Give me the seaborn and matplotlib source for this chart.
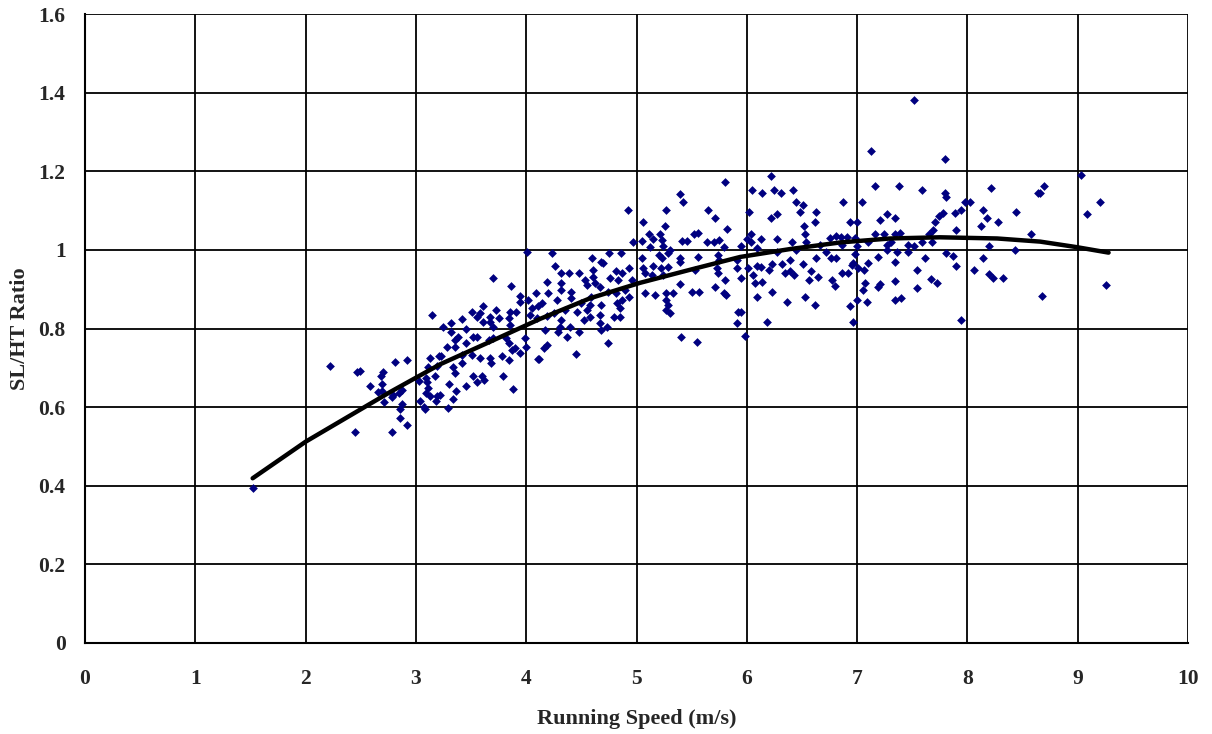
import numpy as np
import pandas as pd
import matplotlib
matplotlib.use("Agg")
import matplotlib.pyplot as plt
import seaborn as sns

# ---- scatter data (running speed m/s, SL/HT ratio) ----
speed = [
    1.52, 2.22, 2.45, 2.47, 2.78, 2.92, 2.86,
    3.15, 2.49, 2.81, 2.92, 2.70, 2.68, 2.58, 2.69, 2.69, 2.66, 2.71, 2.78, 2.79,
    2.85, 2.87, 2.87, 2.86, 3.03, 3.13, 3.11, 3.09, 3.10, 3.11, 3.09, 3.13, 3.04,
    3.07, 3.19, 3.17, 3.19, 3.21, 3.08, 3.29, 3.34, 3.36, 3.45, 3.55, 3.62, 3.88,
    3.22, 3.30, 3.18,
    4.01, 3.70, 3.86, 3.94, 4.09, 4.02, 3.94, 4.05, 4.11, 3.73, 3.85, 3.91, 3.51,
    3.55, 3.61, 3.42, 3.67, 3.67, 3.75, 3.84, 3.85, 4.03, 4.10, 3.32, 3.25, 3.32,
    3.45, 3.70, 3.55, 3.52, 3.38, 3.35, 3.28, 3.35, 3.45, 3.66, 3.70, 3.82, 3.87,
    3.84, 3.90, 3.99, 4.00, 3.94, 4.11, 3.23, 3.42, 3.51, 3.58, 3.67, 3.68, 3.78,
    3.84, 3.42, 3.34, 3.35, 3.52, 3.60, 3.79, 3.61, 3.58,
    4.92, 4.97, 4.23, 4.75, 4.86, 4.26, 4.60, 4.68, 4.70, 4.32, 4.39, 4.48, 4.61,
    4.61, 4.81, 4.87, 4.93, 4.76, 4.83, 4.96, 4.53, 4.55, 4.62, 4.32, 4.19, 4.32,
    4.41, 4.67, 4.74, 4.81, 4.90, 4.93, 4.20, 4.28, 4.14, 4.41, 4.50, 4.59, 4.58,
    4.82, 4.87, 4.35, 4.46, 4.55, 4.68, 4.85, 4.80, 4.85, 4.25, 4.19, 4.58, 4.67,
    4.52, 4.67, 4.73, 4.32, 4.31, 4.40, 4.17, 4.29, 4.48, 4.37, 4.68, 4.74, 4.19,
    4.16, 4.12, 4.45,
    5.80, 5.39, 5.42, 5.27, 5.65, 5.71, 5.06, 5.26, 5.82, 5.11, 5.21, 5.52, 5.56,
    5.05, 5.15, 5.23, 5.41, 5.46, 5.64, 5.70, 5.75, 5.12, 5.24, 5.30, 5.79, 5.20,
    5.23, 5.29, 5.05, 5.39, 5.39, 5.56, 5.74, 5.75, 5.91, 5.15, 5.06, 5.22, 5.29,
    5.08, 5.14, 5.24, 5.53, 5.73, 5.91, 5.74, 5.80, 5.39, 5.71, 5.08, 5.17, 5.27,
    5.33, 5.50, 5.57, 5.79, 5.81, 5.27, 5.29, 5.27, 5.30, 5.92, 5.91, 5.40, 5.55,
    6.22, 6.05, 6.25, 6.14, 6.31, 6.42, 6.45, 6.51, 6.48, 6.63, 6.02, 6.27, 6.22,
    6.62, 6.52, 6.53, 6.04, 6.00, 6.13, 6.27, 6.41, 6.54, 6.75, 6.81, 5.95, 6.04,
    6.09, 6.45, 6.66, 6.72, 6.27, 6.01, 5.95, 6.09, 6.13, 6.23, 6.32, 6.39, 6.51,
    6.63, 6.76, 6.81, 6.20, 6.35, 6.39, 6.43, 6.06, 6.07, 6.14, 6.58, 6.56, 6.65,
    6.77, 6.80, 6.23, 6.09, 6.36, 6.53, 6.62, 5.95, 6.18, 5.98,
    7.52, 7.13, 7.16, 7.38, 7.59, 6.87, 7.04, 7.74, 7.27, 7.21, 7.34, 6.94, 7.00,
    7.71, 7.69, 7.16, 7.24, 7.34, 7.39, 7.65, 6.85, 6.91, 6.98, 7.10, 7.27, 7.31,
    7.46, 7.52, 7.59, 7.68, 6.86, 7.00, 7.27, 7.36, 7.46, 6.98, 7.19, 7.62, 6.86,
    6.92, 6.95, 6.96, 7.01, 7.06, 7.10, 7.34, 7.54, 7.07, 7.05, 7.19, 7.21, 7.34,
    7.54, 7.67, 7.72, 7.00, 7.09, 7.34, 7.40, 6.94, 6.96,
    7.80, 7.80, 7.81, 8.21, 8.64, 7.98, 8.02, 7.78, 7.89, 7.94, 8.14, 8.18, 8.28,
    8.44, 8.12, 7.90, 8.58, 8.20, 8.43, 7.81, 7.87, 8.14, 7.90, 8.06, 8.20, 8.23,
    8.32, 7.94,
    9.03, 8.69, 8.66, 9.20, 9.08, 9.26, 8.68,
]
ratio = [
    0.394, 0.705, 0.537, 0.690, 0.537, 0.555, 0.572,
    0.834, 0.691, 0.716, 0.720, 0.690, 0.679, 0.655, 0.659, 0.642, 0.639, 0.614, 0.625, 0.631,
    0.635, 0.644, 0.608, 0.595, 0.667, 0.726, 0.701, 0.673, 0.665, 0.648, 0.635, 0.628, 0.616,
    0.601, 0.705, 0.679, 0.628, 0.729, 0.595, 0.598, 0.620, 0.640, 0.655, 0.665, 0.668, 0.645,
    0.630, 0.660, 0.615,
    0.995, 0.929, 0.909, 0.883, 0.890, 0.873, 0.867, 0.851, 0.856, 0.847, 0.843, 0.843, 0.843,
    0.830, 0.817, 0.823, 0.830, 0.817, 0.826, 0.826, 0.809, 0.834, 0.826, 0.813, 0.803, 0.792,
    0.798, 0.805, 0.779, 0.778, 0.779, 0.771, 0.754, 0.752, 0.762, 0.771, 0.775, 0.775, 0.745,
    0.762, 0.750, 0.775, 0.754, 0.737, 0.722, 0.729, 0.733, 0.733, 0.724, 0.724, 0.712, 0.729,
    0.720, 0.712, 0.703, 0.686, 0.678, 0.678, 0.678, 0.856, 0.839,
    1.101, 1.021, 0.991, 0.991, 0.991, 0.960, 0.979, 0.970, 0.966, 0.940, 0.940, 0.940, 0.949,
    0.932, 0.945, 0.940, 0.953, 0.928, 0.923, 0.923, 0.923, 0.911, 0.915, 0.915, 0.919, 0.898,
    0.894, 0.906, 0.894, 0.890, 0.898, 0.881, 0.890, 0.873, 0.864, 0.877, 0.864, 0.881, 0.860,
    0.864, 0.873, 0.847, 0.843, 0.847, 0.860, 0.851, 0.830, 0.829, 0.839, 0.832, 0.830, 0.834,
    0.822, 0.813, 0.805, 0.822, 0.805, 0.805, 0.796, 0.792, 0.792, 0.779, 0.796, 0.762, 0.758,
    0.750, 0.722, 0.735,
    1.173, 1.142, 1.122, 1.101, 1.101, 1.080, 1.072, 1.061, 1.052, 1.040, 1.040, 1.040, 1.044,
    1.023, 1.027, 1.025, 1.022, 1.022, 1.021, 1.021, 1.025, 1.008, 1.010, 1.000, 1.008, 0.987,
    0.979, 0.991, 0.979, 0.979, 0.970, 0.981, 0.987, 0.974, 0.974, 0.959, 0.953, 0.953, 0.957,
    0.940, 0.936, 0.936, 0.949, 0.953, 0.953, 0.940, 0.923, 0.913, 0.906, 0.890, 0.885, 0.891,
    0.890, 0.894, 0.894, 0.890, 0.885, 0.873, 0.860, 0.847, 0.839, 0.843, 0.813, 0.778, 0.766,
    1.189, 1.152, 1.152, 1.144, 1.144, 1.152, 1.123, 1.113, 1.097, 1.097, 1.097, 1.091, 1.082,
    1.072, 1.061, 1.040, 1.040, 1.027, 1.027, 1.027, 1.021, 1.021, 1.029, 1.035, 1.010, 1.021,
    1.006, 1.000, 1.012, 0.995, 0.995, 0.953, 0.928, 0.959, 0.957, 0.964, 0.964, 0.974, 0.964,
    0.979, 0.979, 0.979, 0.949, 0.940, 0.945, 0.936, 0.936, 0.915, 0.919, 0.945, 0.923, 0.932,
    0.923, 0.908, 0.894, 0.879, 0.868, 0.879, 0.860, 0.843, 0.817, 0.782,
    1.381, 1.252, 1.163, 1.163, 1.152, 1.123, 1.123, 1.086, 1.091, 1.076, 1.082, 1.072, 1.072,
    1.072, 1.051, 1.040, 1.040, 1.040, 1.044, 1.040, 1.032, 1.032, 1.029, 1.021, 1.012, 1.021,
    1.012, 1.010, 1.021, 1.021, 1.012, 1.010, 1.000, 0.995, 0.994, 0.990, 0.983, 0.980, 0.940,
    0.940, 0.962, 0.966, 0.953, 0.950, 0.966, 0.970, 0.950, 0.915, 0.898, 0.906, 0.913, 0.921,
    0.904, 0.925, 0.915, 0.873, 0.868, 0.873, 0.877, 0.857, 0.817,
    1.231, 1.144, 1.134, 1.158, 1.144, 1.123, 1.123, 1.093, 1.093, 1.101, 1.101, 1.082, 1.072,
    1.097, 1.061, 1.051, 1.040, 1.010, 1.000, 0.991, 0.984, 0.980, 0.959, 0.949, 0.939, 0.929,
    0.928, 0.822,
    1.191, 1.163, 1.144, 1.123, 1.091, 0.911, 0.883,
]

# ---- trend curve ----
curve_speed = [1.52, 2.00, 2.40, 2.77, 3.22, 3.67, 4.13, 4.58, 5.03, 5.48, 5.94,
               6.39, 6.85, 7.30, 7.75, 8.27, 8.66, 8.99, 9.28]
curve_ratio = [0.419, 0.512, 0.578, 0.639, 0.709, 0.766, 0.825, 0.877, 0.916, 0.949, 0.982,
               1.002, 1.019, 1.029, 1.032, 1.029, 1.021, 1.007, 0.993]

x_ticks = [0, 1, 2, 3, 4, 5, 6, 7, 8, 9, 10]
y_ticks = [0, 0.2, 0.4, 0.6, 0.8, 1.0, 1.2, 1.4, 1.6]
y_tick_labels = ["0", "0.2", "0.4", "0.6", "0.8", "1", "1.2", "1.4", "1.6"]

sns.set_style("white")
plt.rcParams["font.family"] = ["Liberation Serif", "DejaVu Serif"]
plt.rcParams["font.weight"] = "bold"

df = pd.DataFrame({"speed": speed, "ratio": ratio})
cdf = pd.DataFrame({"speed": curve_speed, "ratio": curve_ratio})

fig = plt.figure(figsize=(12.12, 7.34), dpi=100)
ax = fig.add_axes([85 / 1212, 1 - 643 / 734, (1188 - 85) / 1212, (643 - 14) / 734])

sns.scatterplot(data=df, x="speed", y="ratio", ax=ax, marker="D", s=20,
                color="#000080", linewidth=0, zorder=3)
sns.lineplot(data=cdf, x="speed", y="ratio", ax=ax, color="black", linewidth=3.2,
             zorder=4, sort=True, estimator=None)

ax.set_xlim(0, 10)
ax.set_ylim(0, 1.6)
ax.set_xticks(x_ticks)
ax.set_xticklabels([str(t) for t in x_ticks])
ax.set_yticks(y_ticks)
ax.set_yticklabels(y_tick_labels)
ax.grid(True, color="black", linewidth=1.3)
ax.set_axisbelow(True)
for s in ["top", "right"]:
    ax.spines[s].set_visible(False)
for s in ["left", "bottom"]:
    ax.spines[s].set_color("black")
    ax.spines[s].set_linewidth(1.5)
ax.tick_params(axis="both", direction="out", length=6, width=1.5, color="black",
               labelsize=15.5)
ax.tick_params(axis="x", pad=12.5)
ax.tick_params(axis="y", pad=8)
for lab in ax.get_xticklabels() + ax.get_yticklabels():
    lab.set_fontweight("bold")
ax.set_xlabel("Running Speed (m/s)", fontsize=16, fontweight="bold", labelpad=14.5)
ax.set_ylabel("SL/HT Ratio", fontsize=16, fontweight="bold", labelpad=6)

fig.savefig("out.png", dpi=100)
